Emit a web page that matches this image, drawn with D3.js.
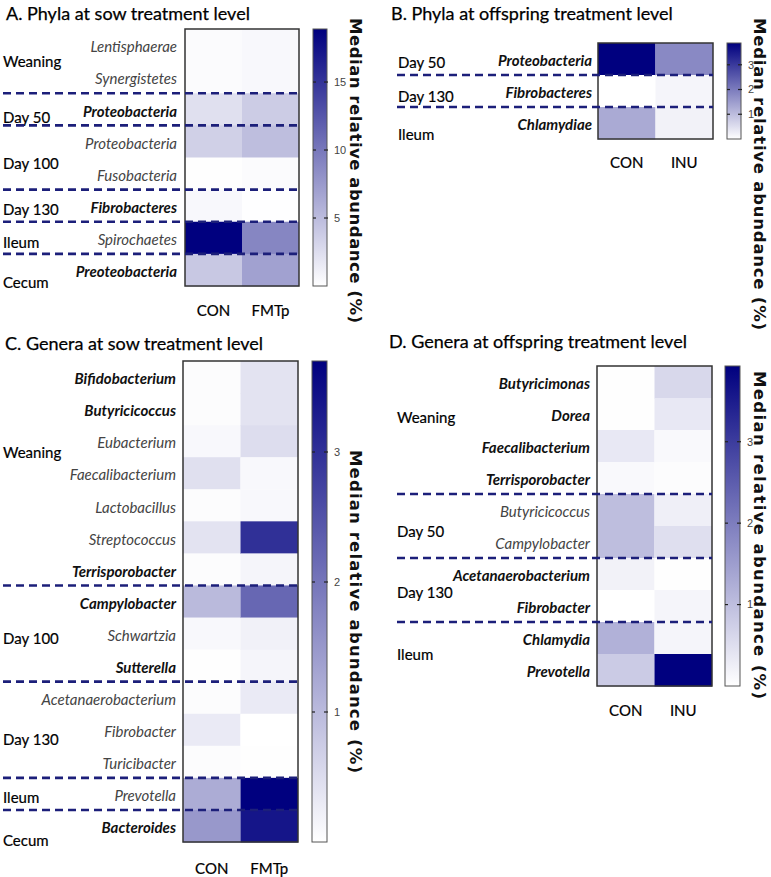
<!DOCTYPE html>
<html><head><meta charset="utf-8">
<script src="https://cdn.jsdelivr.net/npm/d3@7"></script>
<style>body{margin:0;background:#fff} svg{display:block}</style>
</head><body><svg id="chart" width="771" height="877"></svg>
<script>
// ---------- Panel A : Phyla at sow treatment level ----------
const phylaSowTitle = "A. Phyla at sow treatment level";
const phylaSowTaxa = ["Lentisphaerae","Synergistetes","Proteobacteria","Proteobacteria","Fusobacteria","Fibrobacteres","Spirochaetes","Preoteobacteria"];
const phylaSowBold = [false,false,true,false,false,true,false,true];
const phylaSowTreatments = ["CON","FMTp"];
const phylaSowCON  = [0.3,0.3,2.3,3.5,0.1,0.5,18.9,4.1];
const phylaSowFMTp = [0.5,0.5,3.8,4.8,0.3,0.05,9.0,7.0];
const phylaSowGroups = ["Weaning","Day 50","Day 100","Day 130","Ileum","Cecum"];
const phylaSowGroupSizes = [2,1,2,1,1,1];
const phylaSowMax = 18.9;
const phylaSowTicks = [5,10,15];

// ---------- Panel B : Phyla at offspring treatment level ----------
const phylaOffTitle = "B. Phyla at offspring treatment level";
const phylaOffTaxa = ["Proteobacteria","Fibrobacteres","Chlamydiae"];
const phylaOffBold = [true,true,true];
const phylaOffTreatments = ["CON","INU"];
const phylaOffCON = [3.88,0.0,1.3];
const phylaOffINU = [1.8,0.15,0.2];
const phylaOffGroups = ["Day 50","Day 130","Ileum"];
const phylaOffGroupSizes = [1,1,1];
const phylaOffMax = 3.88;
const phylaOffTicks = [1,2,3];

// ---------- Panel C : Genera at sow treatment level ----------
const generaSowTitle = "C. Genera at sow treatment level";
const generaSowTaxa = ["Bifidobacterium","Butyricicoccus","Eubacterium","Faecalibacterium","Lactobacillus","Streptococcus","Terrisporobacter","Campylobacter","Schwartzia","Sutterella","Acetanaerobacterium","Fibrobacter","Turicibacter","Prevotella","Bacteroides"];
const generaSowBold = [true,true,false,false,false,false,true,true,false,true,false,false,false,false,true];
const generaSowTreatments = ["CON","FMTp"];
const generaSowCON  = [0.05,0.05,0.1,0.45,0.05,0.4,0.05,1.0,0.1,0.02,0.05,0.3,0.05,1.2,1.5];
const generaSowFMTp = [0.4,0.4,0.5,0.1,0.1,3.0,0.15,2.2,0.2,0.15,0.3,0.0,0.02,3.7,3.4];
const generaSowGroups = ["Weaning","Day 100","Day 130","Ileum","Cecum"];
const generaSowGroupSizes = [7,3,3,1,1];
const generaSowMax = 3.7;
const generaSowTicks = [1,2,3];

// ---------- Panel D : Genera at offspring treatment level ----------
const generaOffTitle = "D. Genera at offspring treatment level";
const generaOffTaxa = ["Butyricimonas","Dorea","Faecalibacterium","Terrisporobacter","Butyricicoccus","Campylobacter","Acetanaerobacterium","Fibrobacter","Chlamydia","Prevotella"];
const generaOffBold = [true,true,true,true,false,false,true,true,true,true];
const generaOffTreatments = ["CON","INU"];
const generaOffCON = [0.02,0.02,0.35,0.1,1.0,1.0,0.2,0.0,1.2,0.8];
const generaOffINU = [0.6,0.35,0.1,0.05,0.25,0.5,0.02,0.15,0.15,3.93];
const generaOffGroups = ["Weaning","Day 50","Day 130","Ileum"];
const generaOffGroupSizes = [4,2,2,2];
const generaOffMax = 3.93;
const generaOffTicks = [1,2,3];

const cbarTitle = "Median relative abundance (%)";

// ---------- layout ----------
const svg = d3.select("#chart");
const NAVY = "#00007f";
const LINE = "#1c1f7a";
const FONT = "Lato, 'Open Sans', sans-serif";

function panel(p) {
  const g = svg.append("g");
  const rowsIdx = p.taxa.map((d,i)=>i);
  const x = d3.scaleBand().domain(p.treatments).range([p.hx0, p.hx1]);
  const y = d3.scaleBand().domain(rowsIdx).range([p.hy0, p.hy1]);
  const color = d3.scaleLinear().domain([0, p.max]).range(["#ffffff", NAVY]).clamp(true);

  // title
  g.append("text").attr("x", p.titleX).attr("y", p.titleY)
    .attr("font-family", FONT).attr("font-size", 18).attr("fill", "#000")
    .attr("stroke", "#000").attr("stroke-width", 0.25)
    .text(p.title);

  // cells
  p.treatments.forEach((t, j) => {
    g.selectAll(null).data(p.values[j]).enter().append("rect")
      .attr("x", x(t)).attr("y", (d,i)=>y(i))
      .attr("width", x.bandwidth()).attr("height", y.bandwidth() + 0.5)
      .attr("fill", d => color(d));
  });
  g.append("rect").attr("x", p.hx0).attr("y", p.hy0)
    .attr("width", p.hx1 - p.hx0).attr("height", p.hy1 - p.hy0)
    .attr("fill", "none").attr("stroke", "#333").attr("stroke-width", 1.5);

  // row labels
  g.selectAll(null).data(p.taxa).enter().append("text")
    .attr("x", p.labelX).attr("y", (d,i)=>y(i) + y.bandwidth()/2 + 2)
    .attr("dy", "0.35em").attr("text-anchor", "end")
    .attr("font-family", FONT).attr("font-style", "italic")
    .attr("font-size", 15)
    .attr("font-weight", (d,i)=>p.bold[i] ? 700 : 400)
    .attr("fill", (d,i)=>p.bold[i] ? "#111" : "#444")
    .text(d=>d);

  // groups + dashed lines
  let cum = 0;
  p.groups.forEach((grp, k) => {
    const n = p.groupSizes[k];
    const yTop = y(cum);
    const yBot = cum + n < p.taxa.length ? y(cum + n) : p.hy1;
    g.append("text").attr("x", p.groupX).attr("y", (yTop + yBot)/2 + p.groupDy[k])
      .attr("dy", "0.35em").attr("font-family", FONT).attr("font-size", 15)
      .attr("fill", "#000").attr("stroke", "#000").attr("stroke-width", 0.2).text(grp);
    cum += n;
    if (k < p.groups.length - 1) {
      g.append("line").attr("x1", p.lineX0).attr("x2", p.hx1)
        .attr("y1", yBot).attr("y2", yBot)
        .attr("stroke", LINE).attr("stroke-width", 2.6)
        .attr("stroke-dasharray", "8,5");
    }
  });

  // column labels
  g.selectAll(null).data(p.treatments).enter().append("text")
    .attr("x", d => x(d) + x.bandwidth()/2).attr("y", p.colLabelY)
    .attr("text-anchor", "middle").attr("font-family", FONT).attr("font-size", 15)
    .attr("fill", "#000").attr("stroke", "#000").attr("stroke-width", 0.2).text(d=>d);

  // colorbar
  const gid = "grad" + p.id;
  const grad = svg.append("defs").append("linearGradient").attr("id", gid)
    .attr("x1", 0).attr("x2", 0).attr("y1", 1).attr("y2", 0);
  grad.append("stop").attr("offset", "0%").attr("stop-color", "#ffffff");
  grad.append("stop").attr("offset", "100%").attr("stop-color", NAVY);
  const cy = d3.scaleLinear().domain([0, p.max]).range([p.hy1, p.hy0]);
  g.append("rect").attr("x", p.cx0).attr("y", cy(p.max))
    .attr("width", p.cx1 - p.cx0).attr("height", cy(0) - cy(p.max))
    .attr("fill", `url(#${gid})`).attr("stroke", "#555").attr("stroke-width", 1);
  const tk = g.selectAll(null).data(p.ticks).enter().append("g")
    .attr("transform", d => `translate(0,${cy(d)})`);
  tk.append("line").attr("x1", p.cx0).attr("x2", p.cx0 + 3).attr("stroke", "#222").attr("stroke-width", 1.2);
  tk.append("line").attr("x1", p.cx1 - 3).attr("x2", p.cx1 + 1).attr("stroke", "#222").attr("stroke-width", 1.2);
  tk.append("text").attr("x", p.cx1 + 7).attr("dy", "0.35em")
    .attr("font-family", "'Liberation Sans Narrow', 'Liberation Sans', Arial, sans-serif")
    .attr("font-size", 11).attr("fill", "#444").text(d => d);

  // colorbar title
  g.append("text").attr("transform", `translate(${p.cbLabelX},${p.cbLabelY}) rotate(90)`)
    .attr("font-family", "'DejaVu Sans', Verdana, sans-serif").attr("font-weight", "bold")
    .attr("font-size", 16.5).attr("fill", "#111")
    .attr("textLength", p.cbLabelLen).attr("lengthAdjust", "spacing")
    .text(cbarTitle);
}

panel({id:"A", title: phylaSowTitle, taxa: phylaSowTaxa, bold: phylaSowBold,
  treatments: phylaSowTreatments, values: [phylaSowCON, phylaSowFMTp],
  groups: phylaSowGroups, groupSizes: phylaSowGroupSizes, max: phylaSowMax, ticks: phylaSowTicks,
  titleX: 6, titleY: 20, hx0: 185, hx1: 299, hy0: 29, hy1: 286, labelX: 177,
  groupX: 3, lineX0: 3, groupDy: [1,8,6,4,5,13], colLabelY: 316,
  cx0: 313, cx1: 327, cbLabelX: 350, cbLabelY: 18, cbLabelLen: 305});

panel({id:"B", title: phylaOffTitle, taxa: phylaOffTaxa, bold: phylaOffBold,
  treatments: phylaOffTreatments, values: [phylaOffCON, phylaOffINU],
  groups: phylaOffGroups, groupSizes: phylaOffGroupSizes, max: phylaOffMax, ticks: phylaOffTicks,
  titleX: 391, titleY: 20, hx0: 598, hx1: 713, hy0: 43, hy1: 139, labelX: 592,
  groupX: 398, lineX0: 397, groupDy: [4,6,12], colLabelY: 168,
  cx0: 727, cx1: 741, cbLabelX: 754, cbLabelY: 18, cbLabelLen: 312});

panel({id:"C", title: generaSowTitle, taxa: generaSowTaxa, bold: generaSowBold,
  treatments: generaSowTreatments, values: [generaSowCON, generaSowFMTp],
  groups: generaSowGroups, groupSizes: generaSowGroupSizes, max: generaSowMax, ticks: generaSowTicks,
  titleX: 5, titleY: 350, hx0: 183, hx1: 298, hy0: 361, hy1: 842, labelX: 176,
  groupX: 3, lineX0: 3, groupDy: [-20,5,10,4,15], colLabelY: 874,
  cx0: 312, cx1: 327, cbLabelX: 350, cbLabelY: 450, cbLabelLen: 323});

panel({id:"D", title: generaOffTitle, taxa: generaOffTaxa, bold: generaOffBold,
  treatments: generaOffTreatments, values: [generaOffCON, generaOffINU],
  groups: generaOffGroups, groupSizes: generaOffGroupSizes, max: generaOffMax, ticks: generaOffTicks,
  titleX: 389, titleY: 348, hx0: 597, hx1: 712, hy0: 366, hy1: 686, labelX: 590,
  groupX: 397, lineX0: 397, groupDy: [-12,6,3,1], colLabelY: 716,
  cx0: 725, cx1: 740, cbLabelX: 754, cbLabelY: 371, cbLabelLen: 328});
</script></body></html>
